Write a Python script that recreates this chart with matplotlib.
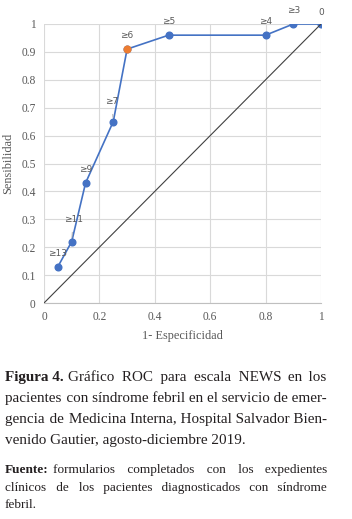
import matplotlib
matplotlib.use("Agg")
import matplotlib.pyplot as plt

# ─── Dades ────────────────────────────────────────────────────────────────────

fpr = [0.05, 0.10, 0.15, 0.25, 0.30, 0.45, 0.80, 0.90, 1.00]
sens = [0.13, 0.22, 0.43, 0.65, 0.91, 0.96, 0.96, 1.00, 1.00]
cut_labels = ["≥13", "≥11", "≥9", "≥7", "≥6", "≥5", "≥4", "≥3", "0"]
best_idx = 4  # punt de tall destacat (≥6)

ticks = [0, 0.2, 0.4, 0.6, 0.8, 1]
yticks = [0, 0.1, 0.2, 0.3, 0.4, 0.5, 0.6, 0.7, 0.8, 0.9, 1]
tick_text = ["0", "0.2", "0.4", "0.6", "0.8", "1"]
ytick_text = ["0", "0.1", "0.2", "0.3", "0.4", "0.5", "0.6", "0.7", "0.8", "0.9", "1"]

# offsets de les etiquetes (punts)
label_off = [(0, 9.5), (1, 16), (0, 9.5), (-1, 14.5), (0, 9.5),
             (0, 9.5), (0, 9.5), (0, 10), (0, 8)]

caption_head = "Figura 4."
caption_lines = [
    "Gráfico ROC para escala NEWS en los",
    "pacientes con síndrome febril en el servicio de emer-",
    "gencia de Medicina Interna, Hospital Salvador Bien-",
    "venido Gautier, agosto-diciembre 2019.",
]
source_head = "Fuente:"
source_lines = [
    "formularios completados con los expedientes",
    "clínicos de los pacientes diagnosticados con síndrome",
    "febril.",
]

BLUE = "#4472C4"
ORANGE = "#ED7D31"
GRAY = "#595959"
GRID = "#D9D9D9"
INK = "#231F20"
SERIF = ["Liberation Serif", "DejaVu Serif"]
HAIR, THIN = "\u200a", "\u2009"

W, H = 352, 519
fig = plt.figure(figsize=(W / 100, H / 100), dpi=100)
ax = fig.add_axes([44 / W, 1 - 303 / H, 277 / W, 279 / H])

ax.plot([0, 1], [0, 1], color="#404040", lw=0.8, zorder=4)
ax.plot(fpr, sens, color=BLUE, lw=1.2, marker="o", ms=4.8,
        mfc=BLUE, mec=BLUE, zorder=3)
ax.plot(fpr[best_idx], sens[best_idx], "o", ms=4.8, color=ORANGE, zorder=5)

for i, (x, y, t) in enumerate(zip(fpr, sens, cut_labels)):
    dx, dy = label_off[i]
    arrow = None
    if dy > 12:
        arrow = dict(arrowstyle="-", color="#A6A6A6", lw=0.6,
                     shrinkA=4, shrinkB=3)
    ax.annotate(t, (x, y), xytext=(dx, dy), textcoords="offset points",
                ha="center", va="center", fontsize=6.5, color=GRAY,
                arrowprops=arrow, zorder=6)

ax.set_xlim(0, 1)
ax.set_ylim(0, 1)
ax.set_xticks(ticks)
ax.set_xticklabels(tick_text, family=SERIF, fontsize=8.3, color=GRAY)
ax.set_yticks(yticks)
ax.set_yticklabels(ytick_text, family=SERIF, fontsize=8.3, color=GRAY)
ax.tick_params(length=0, pad=6)
ax.grid(color=GRID, lw=0.8, zorder=0)
ax.set_axisbelow(True)
for s in ["left", "top", "right"]:
    ax.spines[s].set_visible(False)
ax.spines["bottom"].set_color("#BFBFBF")
ax.spines["bottom"].set_linewidth(0.8)
ax.set_xlabel("1- Especificidad", family=SERIF, fontsize=8.8, color=GRAY,
              labelpad=5)
ax.set_ylabel("Sensibilidad", family=SERIF, fontsize=8.8, color=GRAY,
              labelpad=5)

# ─── Peu de figura justificat ─────────────────────────────────────────────────

renderer = fig.canvas.get_renderer()


def text_w(s, size, weight="normal"):
    t = fig.text(0, 0, s, family=SERIF, fontsize=size, fontweight=weight)
    w = t.get_window_extent(renderer).width
    t.remove()
    return w


def justified(s, size, target):
    words = s.split()
    n = len(words) - 1
    if n < 1:
        return s
    hair = (text_w("x" + HAIR * 20 + "x", size) - text_w("xx", size)) / 20
    sep = " "
    extra = target - text_w(" ".join(words), size)
    if extra < 0:
        sep = THIN
        extra = target - text_w(THIN.join(words), size)
    k = max(0, round(extra / hair))
    out = words[0]
    for i, w in enumerate(words[1:]):
        out += sep + HAIR * (k // n + (1 if i < k % n else 0)) + w
    return out


def draw_block(head, lines, bases, size, x0=5, x1=327):
    hw = text_w(head, size, "bold")
    gap = size * 100 / 72 * 0.3
    for i, (s, yb) in enumerate(zip(lines, bases)):
        start = x0
        if i == 0:
            fig.text(x0 / W, 1 - yb / H, head, family=SERIF, fontsize=size,
                     fontweight="bold", color=INK, va="baseline")
            start = x0 + hw + gap
        last = i == len(lines) - 1
        txt = s if last else justified(s, size, x1 - start)
        fig.text(start / W, 1 - yb / H, txt, family=SERIF, fontsize=size,
                 color=INK, va="baseline")


draw_block(caption_head, caption_lines, [381, 402, 423, 444], 10.9)
draw_block(source_head, source_lines, [473, 491, 508], 9.5)

fig.savefig("out.png", dpi=100)
